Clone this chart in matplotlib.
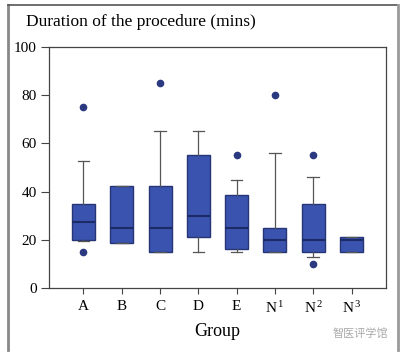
import matplotlib
matplotlib.use("Agg")
import matplotlib.pyplot as plt
from matplotlib.lines import Line2D

plt.rcParams['font.family'] = ['Liberation Serif', 'DejaVu Serif']
plt.rcParams['mathtext.fontset'] = 'custom'
plt.rcParams['mathtext.rm'] = 'Liberation Serif'
plt.rcParams['mathtext.it'] = 'Liberation Serif'

groups = ["A", "B", "C", "D", "E", r"N$^{\,1}$", r"N$^{\,2}$", r"N$^{\,3}$"]
q1 = [20, 18.5, 15, 21.2, 16.2, 15, 15, 15]
med = [27.5, 25, 25, 30, 25, 20, 20, 20]
q3 = [35, 42.5, 42.5, 55, 38.7, 25, 35, 21.2]
whislo = [19.4, 18.5, 15, 15, 15, 15, 13, 15]
whishi = [52.5, 42.5, 65, 65, 45, 56, 46, 21.2]
outliers = [[75, 15], [], [85], [], [55], [80], [55, 10], []]

fig = plt.figure(figsize=(4.07, 3.60), dpi=100)
ax = fig.add_axes([0.1204, 0.2, 0.828, 0.6694])

stats = []
for i in range(len(groups)):
    stats.append(dict(label=groups[i], q1=q1[i], med=med[i], q3=q3[i],
                      whislo=whislo[i], whishi=whishi[i], fliers=outliers[i]))

ax.bxp(stats, positions=range(len(groups)), widths=0.6, patch_artist=True,
       boxprops=dict(facecolor='#3a53ae', edgecolor='#253575', linewidth=1.0),
       medianprops=dict(color='#1c2a66', linewidth=1.5),
       whiskerprops=dict(color='#555555', linewidth=0.9),
       capprops=dict(color='#555555', linewidth=0.9),
       capwidths=0.3,
       flierprops=dict(marker='o', markerfacecolor='#2b3a80', markeredgecolor='#2b3a80',
                       markersize=4.5, linestyle='none'))

ax.set_xlim(-0.9, 7.9)
ax.set_ylim(0, 100)
ax.set_yticks([0, 20, 40, 60, 80, 100])
ax.tick_params(axis='y', labelsize=11, length=6, width=0.8, color='#444444', pad=3)
ax.tick_params(axis='x', labelsize=11, length=4, width=0.8, color='#444444', pad=5)
for s in ax.spines.values():
    s.set_color('#444444')
    s.set_linewidth(0.9)
ax.set_xlabel("Group", fontsize=13, labelpad=5)

fig.text(26 / 407, 1 - 22 / 360, "Duration of the procedure (mins)", fontsize=12.5,
         va='center', ha='left')

# outer frame
fig.add_artist(Line2D([8 / 407, 8 / 407], [1 - 5 / 360, 1 - 350 / 360], transform=fig.transFigure,
                      color='#888888', linewidth=2))
fig.add_artist(Line2D([8 / 407, 397 / 407], [1 - 5 / 360, 1 - 5 / 360], transform=fig.transFigure,
                      color='#555555', linewidth=1.2))
fig.add_artist(Line2D([397.5 / 407, 397.5 / 407], [1 - 5 / 360, 1 - 350 / 360], transform=fig.transFigure,
                      color='#999999', linewidth=2))

# watermark
fig.text(333 / 407, 1 - 333 / 360, "智医评学馆", fontsize=8, color='#aaaaaa',
         family=['Noto Sans CJK SC', 'DejaVu Sans'], va='center', ha='left')

fig.savefig("out.png", dpi=100)
